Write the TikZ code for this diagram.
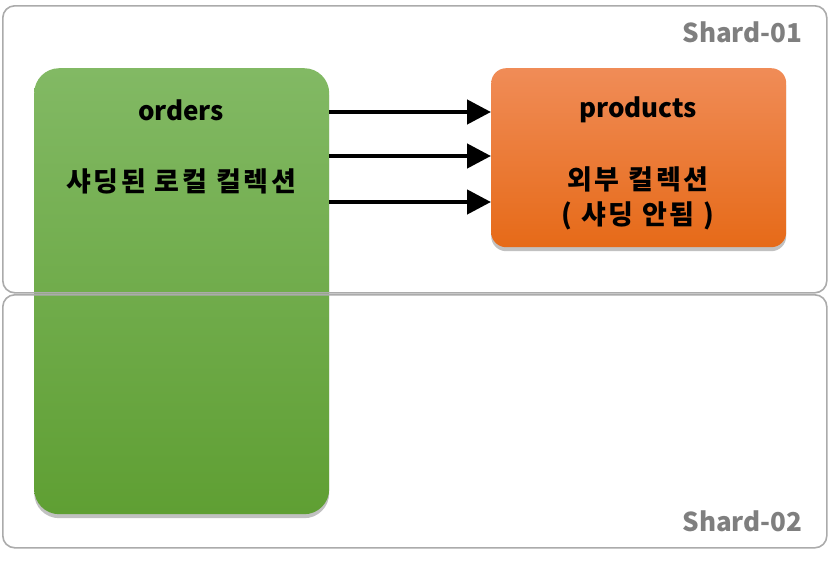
\documentclass[tikz,border=0pt]{standalone}
\usepackage{fontspec}
\setmainfont{Noto Sans CJK KR}
\usepackage{xcolor}
\usepackage{tikz}
\usetikzlibrary{arrows.meta, positioning, shadows}
\definecolor{framegray}{HTML}{ABABAB}
\definecolor{labelgray}{HTML}{7F7F7F}
\definecolor{greentop}{HTML}{82B964}
\definecolor{greenbot}{HTML}{5F9F33}
\definecolor{orangetop}{HTML}{F08C57}
\definecolor{orangebot}{HTML}{E66A18}
\newcommand{\krspaced}{\addfontfeature{LetterSpace=10}}
\tikzset{
    shardbox/.style={
        rectangle, rounded corners=12pt, draw=framegray, line width=1.6pt,
        minimum width=824pt, inner sep=0pt
    },
    shardlab/.style={
        font=\fontsize{26}{30}\selectfont\bfseries, text=labelgray, anchor=east
    },
    collbox/.style 2 args={
        rectangle, rounded corners=#2, top color=#1top, bottom color=#1bot,
        draw=none, inner sep=0pt, minimum width=295pt,
        drop shadow={shadow xshift=0pt, shadow yshift=-4pt, opacity=0.35, fill=black!70}
    },
    colllab/.style={
        font=\fontsize{26}{30}\selectfont\bfseries, text=black, align=center
    },
    krlab/.style={
        font=\fontsize{27}{35}\selectfont\bfseries\krspaced, text=black, align=center
    },
}
\tikzset{
    linkarrow/.style={
        -{Triangle[length=24pt, width=24pt]}, line width=4.5pt, color=black
    },
}
\begin{document}
\begin{tikzpicture}[x=1pt, y=-1pt]
    \useasboundingbox (0,0) rectangle (829,560);

    % Collections
    \node[collbox={green}{25pt}, minimum height=446pt, anchor=north west] (orders) at (34,68) {};
    \node[collbox={orange}{15pt}, minimum height=179pt, anchor=north west] (products) at (491,68) {};

    \node[colllab] (ordname) at (181,110) {orders};
    \node[krlab] (ordnote) at (181,181) {샤딩된 로컬 컬렉션};
    \node[colllab] (prodname) at (638,110) {products};
    \node[krlab] (prodnote) at (638,198) {외부 컬렉션\\( 샤딩 안됨 )};

    % Shards
    \node[shardbox, minimum height=287pt, anchor=north west] (shard1) at (2,5) {};
    \node[shardbox, minimum height=253pt, anchor=north west] (shard2) at (2,294) {};
    \node[shardlab] (shard1lab) at (806,32) {Shard-01};
    \node[shardlab] (shard2lab) at (806,521) {Shard-02};

    % Lookups
    \foreach \y in {112,156,202}
        \draw[linkarrow] (orders.east |- 0,\y) -- (products.west |- 0,\y);

\end{tikzpicture}
\end{document}
